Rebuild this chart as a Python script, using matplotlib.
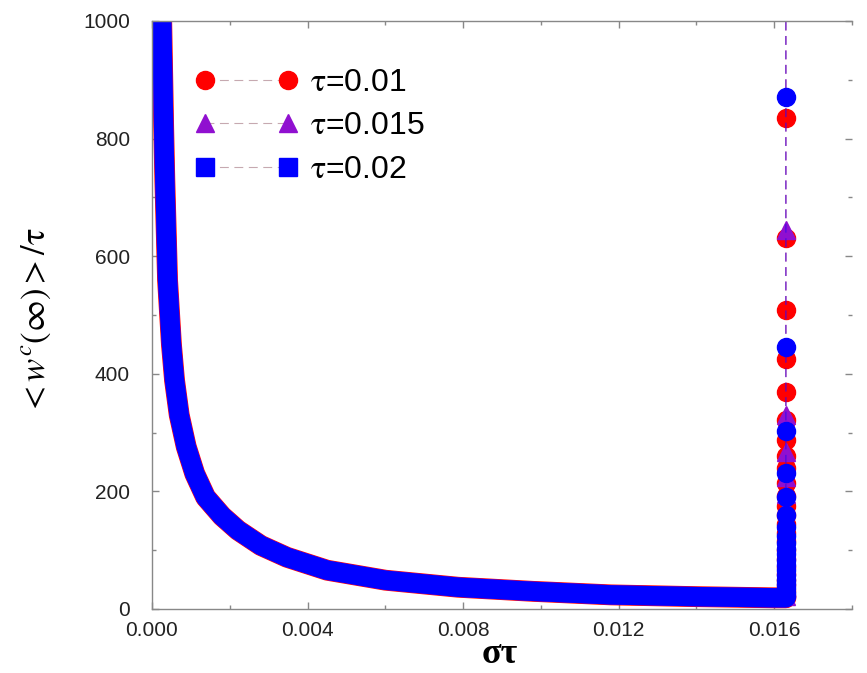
import matplotlib
matplotlib.use("Agg")
import matplotlib.pyplot as plt
import matplotlib.ticker as tck
from matplotlib.colors import to_rgba

# Data
curve_x = [0.00022, 0.00025, 0.00030, 0.00033, 0.00040, 0.00050, 0.00058, 0.00070,
           0.00088, 0.0011, 0.00138, 0.0018, 0.00221, 0.0028, 0.00347, 0.0045,
           0.0060, 0.00787, 0.0098, 0.0118, 0.0140, 0.0160, 0.0163]
curve_y = [1150, 1000, 820, 730, 560, 450, 389, 330,
           276, 230, 190, 158, 134, 108, 88, 66,
           49, 37, 30, 24, 21, 19, 19]

jump_x = 0.0163
red_jump = [22, 30, 40, 50, 60, 72, 85, 100, 115, 130, 145, 160, 175, 192, 214,
            240, 260, 287, 322, 369, 425, 508, 631, 835, 1250]
purple_jump = [22, 35, 50, 65, 80, 95, 110, 125, 140, 155, 172, 195, 225, 267,
               330, 645, 1300]
blue_jump = [22, 28, 35, 42, 50, 58, 66, 75, 84, 93, 102, 112, 124, 140, 160,
             190, 231, 303, 446, 871, 1700]

labels = [r'$\mathrm{\tau}$=0.01', r'$\mathrm{\tau}$=0.015', r'$\mathrm{\tau}$=0.02']
colors = ['#ff0000', '#9010d0', '#0000ff']
markers = ['o', '^', 's']
jump_markers = ['o', '^', 'o']
jumps = [red_jump, purple_jump, blue_jump]

plt.rcParams['font.family'] = ['Liberation Sans', 'DejaVu Sans']
plt.rcParams['mathtext.fontset'] = 'stix'

fig = plt.figure(figsize=(8.67, 6.73), dpi=100)
ax = fig.add_axes([0.1753, 0.0951, 0.8074, 0.8737])

for lab, col, mk, jmk, jy, band in zip(labels, colors, markers, jump_markers, jumps, [15, 14, 14]):
    xs = curve_x + [jump_x] * len(jy)
    ys = curve_y + jy
    thin = to_rgba(col, 0.55)
    # thin dashed connecting line
    ax.plot(xs, ys, ls=(0, (8, 5)), lw=0.8, color=thin)
    # dense markers on the curve appear as a solid band
    ax.plot(curve_x, curve_y, '-', lw=band, color=col, solid_capstyle='round')
    ax.plot([jump_x] * len(jy), jy, ls='none', marker=jmk, ms=13, color=col, mec=col)
    # legend proxy
    ax.plot([], [], ls=(0, (8, 5)), lw=0.8, color=to_rgba('#c0a0a8', 0.9),
            marker=mk, ms=13, mfc=col, mec=col, label=lab)

ax.set_xlim(0, 0.018)
ax.set_ylim(0, 1000)
ax.xaxis.set_major_locator(tck.MultipleLocator(0.004))
ax.xaxis.set_minor_locator(tck.MultipleLocator(0.002))
ax.xaxis.set_major_formatter(tck.StrMethodFormatter('{x:.3f}'))
ax.yaxis.set_major_locator(tck.MultipleLocator(200))
ax.yaxis.set_minor_locator(tck.MultipleLocator(100))

for s in ax.spines.values():
    s.set_color('#888888')
    s.set_linewidth(1.0)
ax.spines['right'].set_visible(False)

ax.tick_params(which='both', direction='in', top=True, right=True, colors='#888888',
               labelcolor='#222222', labelsize=15)
ax.tick_params(which='major', length=5, width=1)
ax.tick_params(which='minor', length=3, width=1)
ax.tick_params(axis='y', pad=16)
ax.tick_params(axis='x', pad=9)

ax.set_xlabel('στ', family='Liberation Serif', fontsize=26, fontweight='bold')
ax.xaxis.set_label_coords(0.497, -0.05)
ax.set_ylabel(r'$<w^{c}(\infty)>/\mathrm{\tau}$', fontsize=25)
ax.yaxis.set_label_coords(-0.141, 0.49)

ax.legend(loc='upper left', bbox_to_anchor=(0.0614, 0.92), frameon=False,
          numpoints=2, handlelength=3.2, handletextpad=0.4, borderpad=0,
          borderaxespad=0, labelspacing=0.42, fontsize=23)

fig.savefig('out.png', dpi=100)
